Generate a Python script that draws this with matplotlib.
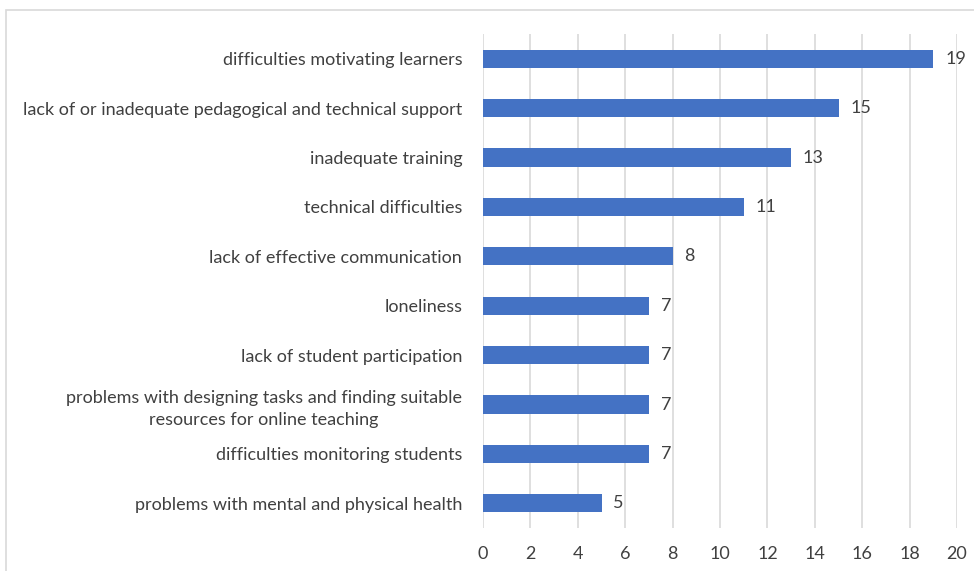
import matplotlib.pyplot as plt
from matplotlib.patches import Rectangle

categories = [
    'difficulties motivating learners',
    'lack of or inadequate pedagogical and technical support',
    'inadequate training',
    'technical difficulties',
    'lack of effective communication',
    'loneliness',
    'lack of student participation',
    'problems with designing tasks and finding suitable\nresources for online teaching',
    'difficulties monitoring students',
    'problems with mental and physical health',
]
values = [19, 15, 13, 11, 8, 7, 7, 7, 7, 5]

plt.rcParams['font.family'] = ['Lato', 'DejaVu Sans']
text_color = '#404040'
bar_color = '#4472C4'

fig = plt.figure(figsize=(9.74, 5.71), dpi=100)
ax = fig.add_axes([483 / 974, 1 - 528 / 571, 474 / 974, 494 / 571])

# outer chart border (right/bottom edges fall outside the picture)
fig.patches.append(Rectangle((6 / 974, -0.1), 1.2, 1 - 10 / 571 + 0.1,
                             transform=fig.transFigure, fill=False,
                             edgecolor='#D9D9D9', linewidth=1.2))

y = list(range(len(categories)))
ax.barh(y, values, height=0.37, color=bar_color, zorder=3)
for yi, v in zip(y, values):
    ax.text(v + 0.5, yi, str(v), va='center', ha='left', fontsize=13, color=text_color)

ax.set_xlim(0, 20)
ax.set_ylim(len(categories) - 0.5, -0.5)
ax.set_xticks(range(0, 21, 2))
ax.set_yticks(y)
ax.set_yticklabels(categories, ha='right', multialignment='center', linespacing=1.45)
ax.tick_params(axis='y', length=0, pad=15, labelsize=13, labelcolor=text_color)
ax.tick_params(axis='x', length=0, pad=13, labelsize=13, labelcolor=text_color)
ax.grid(axis='x', color='#D9D9D9', linewidth=1.2, zorder=0)
for s in ax.spines.values():
    s.set_visible(False)

fig.savefig('out.png', dpi=100)
